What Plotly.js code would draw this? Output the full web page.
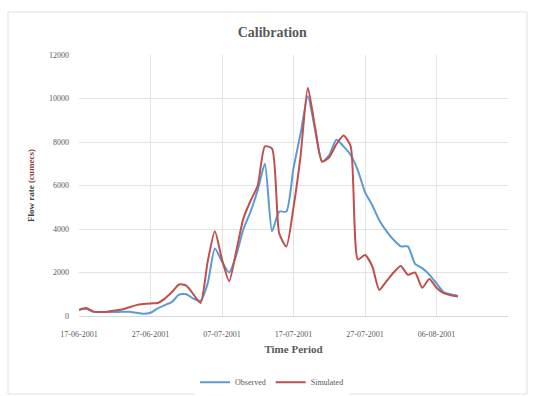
<!DOCTYPE html>
<html><head><meta charset="utf-8">
<script src="https://cdn.plot.ly/plotly-3.0.1.min.js"></script>
<style>html,body{margin:0;padding:0;background:#fff}</style>
</head><body><div id="chart" style="width:537px;height:396px"></div>
<script>
const startDate = '2001-06-17';
const observed = [280,330,200,180,180,180,190,200,150,100,150,350,500,650,980,1000,800,700,1500,3100,2500,2000,2800,4000,4800,5800,7000,3900,4800,4800,6800,8400,10100,8600,7100,7400,8100,7800,7400,6700,5700,5100,4400,3900,3500,3200,3200,2400,2200,1900,1500,1100,1000,920];
const simulated = [280,370,200,180,200,250,300,400,500,550,580,600,800,1100,1450,1400,1000,600,2500,3900,2600,1600,3000,4500,5300,6000,7800,7700,3800,3200,5000,7400,10500,8700,7100,7300,7900,8300,7800,2600,2800,2300,1200,1600,2000,2300,1900,2000,1300,1700,1300,1050,950,900];
const tickDates = ['2001-06-17','2001-06-27','2001-07-07','2001-07-17','2001-07-27','2001-08-06'];
const tickLabels = ['17-06-2001','27-06-2001','07-07-2001','17-07-2001','27-07-2001','06-08-2001'];
const yTicks = [0,2000,4000,6000,8000,10000,12000];

function dayList(start, n){
  const out = [];
  const d0 = new Date(start + 'T00:00:00Z');
  for (let i = 0; i < n; i++) {
    const d = new Date(d0.getTime() + i * 86400000);
    out.push(d.toISOString().slice(0,10));
  }
  return out;
}
const dates = dayList(startDate, observed.length);
const serif = 'Liberation Serif, DejaVu Serif, serif';

const traces = [
  {x: dates, y: observed, name: 'Observed', type: 'scatter', mode: 'lines',
   line: {color: '#5b9bd5', width: 2, shape: 'spline', smoothing: 0.6}},
  {x: dates, y: simulated, name: 'Simulated', type: 'scatter', mode: 'lines',
   line: {color: '#c0504d', width: 2, shape: 'spline', smoothing: 0.6}}
];

const layout = {
  width: 537, height: 396,
  margin: {l: 79, r: 29, t: 55, b: 80, autoexpand: false},
  paper_bgcolor: '#fff', plot_bgcolor: '#fff',
  font: {family: serif, color: '#595959', size: 8},
  title: {text: '<b>Calibration</b>', font: {family: serif, size: 14, color: '#595959'},
          xref: 'container', x: 0.507, yref: 'container', y: 0.918, yanchor: 'middle', xanchor: 'center'},
  xaxis: {
    type: 'date', range: ['2001-06-17', '2001-08-16'], automargin: false,
    tickvals: tickDates, ticktext: tickLabels,
    showgrid: true, gridcolor: '#e3e3e3', gridwidth: 1,
    showline: true, linecolor: '#d9d9d9', linewidth: 1,
    zeroline: false, ticks: '', ticklabelstandoff: 10,
    tickfont: {family: serif, size: 8, color: '#595959'},
    title: {text: '<b>Time Period</b>', font: {family: serif, size: 11, color: '#595959'}, standoff: 7}
  },
  yaxis: {
    range: [0, 12000], tickvals: yTicks, tickformat: 'd', automargin: false,
    showgrid: true, gridcolor: '#e3e3e3', gridwidth: 1,
    zeroline: false, showline: false, ticks: '', ticklabelstandoff: 9,
    tickfont: {family: serif, size: 8, color: '#595959'},
    title: {text: '<b>Flow rate <span style="color:#8b3a3a">(cumecs)</span></b>', font: {family: serif, size: 9, color: '#404040'}, standoff: 12}
  },
  legend: {orientation: 'h', x: 0.45, xanchor: 'center', yref: 'container', y: 0.035, yanchor: 'middle',
           font: {family: serif, size: 8, color: '#595959'}, itemwidth: 30, tracegroupgap: 0},
  showlegend: true,
  shapes: [{type: 'rect', xref: 'paper', yref: 'paper', x0: -0.1655, x1: 1.0443, y0: -0.299, y1: 1.1648,
            line: {color: '#e0e0e0', width: 1}, fillcolor: 'rgba(0,0,0,0)', layer: 'below'}]
};

Plotly.newPlot('chart', traces, layout, {displayModeBar: false, staticPlot: true});
</script></body></html>
